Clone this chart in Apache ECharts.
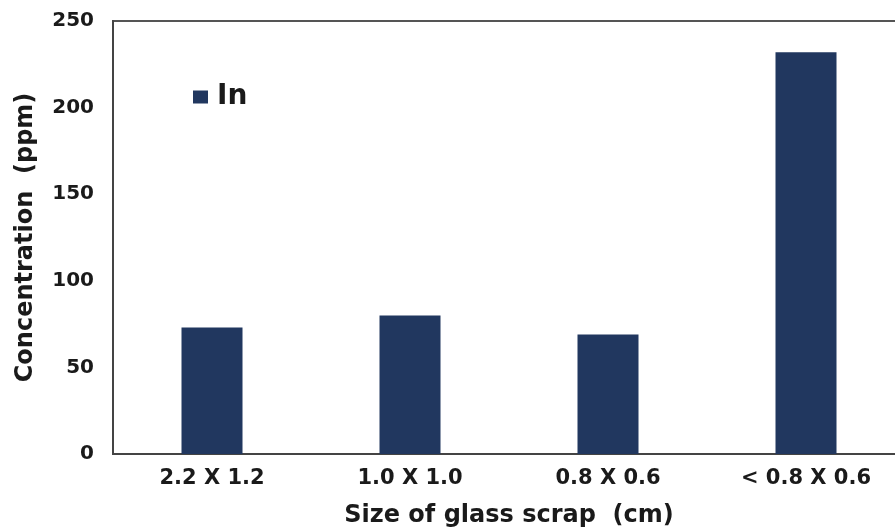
<!DOCTYPE html>
<html>
<head>
<meta charset="utf-8">
<script src="https://cdn.jsdelivr.net/npm/echarts@6/dist/echarts.min.js"></script>
<style>
html,body{margin:0;padding:0;background:#fff;}
#chart{width:895px;height:531px;}
</style>
</head>
<body>
<div id="chart"></div>
<script>
const categories = ['2.2 X 1.2', '1.0 X 1.0', '0.8 X 0.6', '< 0.8 X 0.6'];
const inValues = [73, 80, 69, 232];
const seriesName = 'In';
const yMin = 0, yMax = 250, yInterval = 50;

const FONT = '"DejaVu Sans", sans-serif';
const chart = echarts.init(document.getElementById('chart'), null, {renderer: 'canvas'});
chart.setOption({
  animation: false,
  backgroundColor: '#ffffff',
  grid: {
    left: 113, top: 21, height: 433, width: 792,
    outerBoundsMode: 'none',
    containLabel: false,
    show: true, borderColor: '#555555', borderWidth: 2, backgroundColor: 'transparent'
  },
  legend: {
    data: [seriesName],
    left: 193, top: 83,
    padding: 0,
    itemWidth: 15, itemHeight: 13,
    icon: 'rect',
    textStyle: {fontFamily: FONT, fontSize: 28, fontWeight: 'bold', color: '#1a1a1a', lineHeight: 28, padding: [0, 0, 0, 4]}
  },
  xAxis: {
    type: 'category',
    data: categories,
    name: 'Size of glass scrap  (cm)',
    nameLocation: 'middle',
    nameGap: 50,
    nameTextStyle: {fontFamily: FONT, fontSize: 24, fontWeight: 'bold', color: '#1a1a1a'},
    axisLine: {show: true, lineStyle: {color: '#444444', width: 2}},
    axisTick: {show: false},
    axisLabel: {fontFamily: FONT, fontSize: 21, fontWeight: 'bold', color: '#1a1a1a', margin: 14}
  },
  yAxis: {
    type: 'value',
    min: yMin, max: yMax, interval: yInterval,
    name: 'Concentration  (ppm)',
    nameLocation: 'middle',
    nameGap: 75,
    nameTextStyle: {fontFamily: FONT, fontSize: 24, fontWeight: 'bold', color: '#1a1a1a'},
    axisLine: {show: true, lineStyle: {color: '#444444', width: 2}},
    axisTick: {show: false},
    splitLine: {show: false},
    axisLabel: {fontFamily: FONT, fontSize: 20, fontWeight: 'bold', color: '#1a1a1a', margin: 19}
  },
  series: [{
    name: seriesName,
    type: 'bar',
    data: inValues,
    barWidth: 61,
    itemStyle: {color: '#21375f'}
  }]
});
</script>
</body>
</html>
